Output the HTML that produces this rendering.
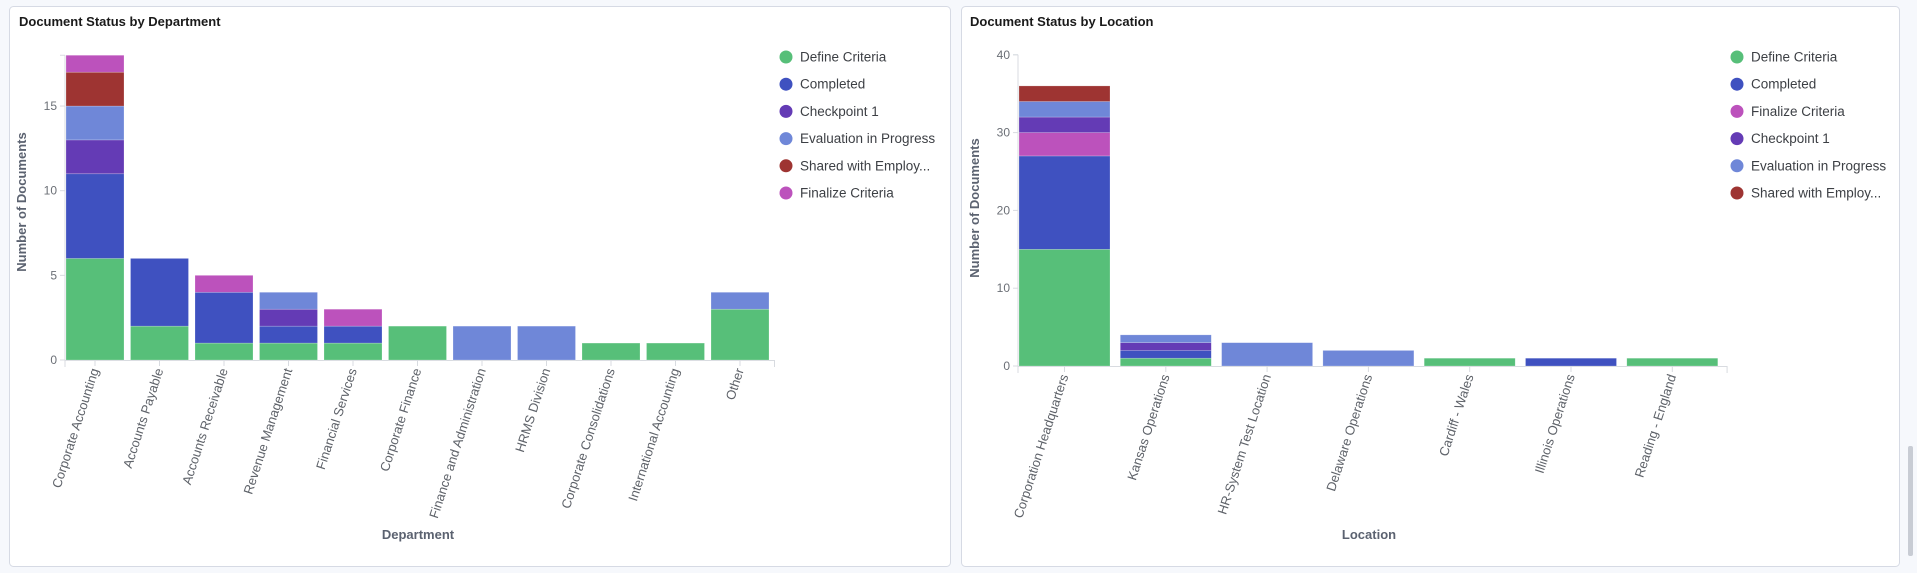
<!DOCTYPE html>
<html><head><meta charset="utf-8"><style>
html,body{margin:0;padding:0;background:#f6f8fc;}
svg{display:block;font-family:"Liberation Sans",Arial,sans-serif;}
.t{font-size:13px;font-weight:bold;fill:#1a1a1a}
.tk{font-size:12px;fill:#6b6f76}
.xl{font-size:13px;fill:#5e6269}
.ax{font-size:13px;font-weight:bold;fill:#5b6270}
.lg{font-size:13.5px;fill:#3c3f44}
</style></head><body>
<svg width="1917" height="573" viewBox="0 0 1917 573">
<rect x="9.5" y="6.5" width="941" height="560" rx="4" fill="#fff" stroke="#d6dae4"/>
<rect x="961.5" y="6.5" width="938" height="560" rx="4" fill="#fff" stroke="#d6dae4"/>
<rect x="1908" y="446" width="5" height="110" rx="2" fill="#c8ccd4"/>
<text class="t" x="19" y="26">Document Status by Department</text>
<text class="t" x="970" y="26">Document Status by Location</text>
<g id="left"></g><g id="right"></g>
</svg>
<script>
const C={g:"#57bf79",c:"#3f51c0",p:"#643bb5",e:"#6f87d8",s:"#9e3432",f:"#bc52bc"};
const NS="http://www.w3.org/2000/svg";
function el(p,t,a,txt){const e=document.createElementNS(NS,t);for(const k in a)e.setAttribute(k,a[k]);if(txt!==undefined)e.textContent=txt;p.appendChild(e);return e;}
function chart(g,o){
 const {ax,y0,ppu,max,ticks,step,bw,data,labels,legend,lx,xtitle,xt,yt}=o;
 const top=y0-max*ppu;
 el(g,"line",{x1:ax,y1:top,x2:ax,y2:y0,stroke:"#d8dbe0"});
 const xend=ax+step*data.length;
 el(g,"line",{x1:ax,y1:y0+0.5,x2:xend,y2:y0+0.5,stroke:"#d8dbe0"});
 el(g,"line",{x1:xend,y1:y0,x2:xend,y2:y0+7,stroke:"#d8dbe0"});
 el(g,"line",{x1:ax,y1:y0,x2:ax,y2:y0+7,stroke:"#d8dbe0"});
 ticks.forEach(t=>{const y=y0-t*ppu;el(g,"line",{x1:ax-5,y1:y,x2:ax,y2:y,stroke:"#d8dbe0"});
  el(g,"text",{class:"tk",x:ax-8,y:y+4,"text-anchor":"end"},t);});
 el(g,"line",{x1:ax-5,y1:top,x2:ax,y2:top,stroke:"#d8dbe0"});
 data.forEach((d,i)=>{let acc=0;const x=ax+1+i*step;
  d.forEach(([k,v])=>{const yb=y0-acc*ppu,yt2=y0-(acc+v)*ppu;
   el(g,"rect",{x:x,y:yt2,width:bw,height:yb-yt2,fill:C[k],stroke:"rgba(255,255,255,0.35)","stroke-width":0.6});acc+=v;});
  const cx=x+bw/2;
  el(g,"line",{x1:cx,y1:y0,x2:cx,y2:y0+6,stroke:"#d8dbe0"});
  el(g,"text",{class:"xl",transform:`translate(${cx+4},${y0+10}) rotate(-72)`,"text-anchor":"end"},labels[i]);
 });
 legend.forEach((l,i)=>{const y=57+i*27.2;el(g,"circle",{cx:lx,cy:y,r:6.5,fill:C[l[0]]});
  el(g,"text",{class:"lg",x:lx+14,y:y+4.5},l[1]);});
 el(g,"text",{class:"ax","text-anchor":"middle",x:xt,y:539},xtitle);
 el(g,"text",{class:"ax","text-anchor":"middle",transform:`translate(${yt[0]},${yt[1]}) rotate(-90)`},"Number of Documents");
}
chart(document.getElementById("left"),{ax:65,y0:360,ppu:16.93,max:18,ticks:[0,5,10,15],step:64.5,bw:58,
 data:[[["g",6],["c",5],["p",2],["e",2],["s",2],["f",1]],[["g",2],["c",4]],[["g",1],["c",3],["f",1]],
 [["g",1],["c",1],["p",1],["e",1]],[["g",1],["c",1],["f",1]],[["g",2]],[["e",2]],[["e",2]],[["g",1]],[["g",1]],[["g",3],["e",1]]],
 labels:["Corporate Accounting","Accounts Payable","Accounts Receivable","Revenue Management","Financial Services","Corporate Finance","Finance and Administration","HRMS Division","Corporate Consolidations","International Accounting","Other"],
 legend:[["g","Define Criteria"],["c","Completed"],["p","Checkpoint 1"],["e","Evaluation in Progress"],["s","Shared with Employ..."],["f","Finalize Criteria"]],
 lx:786,xtitle:"Department",xt:418,yt:[26,202]});
chart(document.getElementById("right"),{ax:1018,y0:366,ppu:7.78,max:40,ticks:[0,10,20,30,40],step:101.3,bw:91,
 data:[[["g",15],["c",12],["f",3],["p",2],["e",2],["s",2]],[["g",1],["c",1],["p",1],["e",1]],[["e",3]],[["e",2]],[["g",1]],[["c",1]],[["g",1]]],
 labels:["Corporation Headquarters","Kansas Operations","HR-System Test Location","Delaware Operations","Cardiff - Wales","Illinois Operations","Reading - England"],
 legend:[["g","Define Criteria"],["c","Completed"],["f","Finalize Criteria"],["p","Checkpoint 1"],["e","Evaluation in Progress"],["s","Shared with Employ..."]],
 lx:1737,xtitle:"Location",xt:1369,yt:[979,208]});
</script>
</body></html>
